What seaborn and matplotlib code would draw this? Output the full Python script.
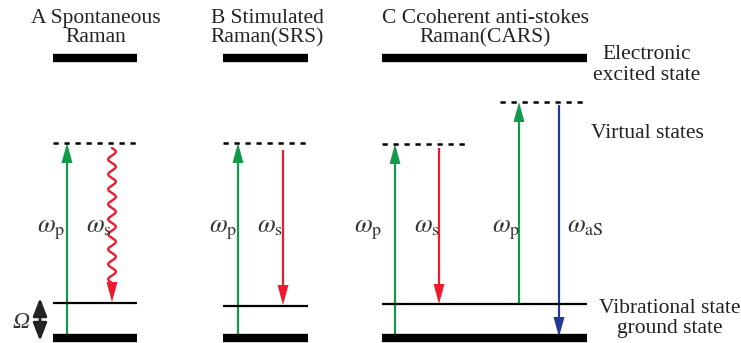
import numpy as np
import matplotlib
matplotlib.use("Agg")
import matplotlib.pyplot as plt
import seaborn as sns

# ---------------- data (pixel space of the 741x343 picture, y pointing down) ----------------
titles = ["A Spontaneous\nRaman", "B Stimulated\nRaman(SRS)", "C Ccoherent anti-stokes\nRaman(CARS)"]
title_x = [96, 267, 485]

# horizontal span of each panel's levels
span_left = [53, 223, 382]
span_right = [137, 308, 587]

# energy levels
y_excited = [58, 58, 58]
y_ground = [337.5, 337.5, 337.5]
y_vib = [302.5, 305.5, 304]

# virtual states (dashed)
virt_x0 = [53, 223, 382, 500]
virt_x1 = [137, 308, 467, 587]
virt_y = [143, 143, 144, 102]

# transitions
arr_x = [67, 112, 238, 283, 395, 439, 519, 559]
arr_y0 = [337, 148, 337, 150, 337, 148, 304, 105]
arr_y1 = [143, 302, 143, 305, 144, 304, 102, 337]
arr_kind = ["p", "wave", "p", "s", "p", "s", "p", "as"]
arr_label = [r"$\omega_{\rm p}$", r"$\omega_{\rm s}$", r"$\omega_{\rm p}$", r"$\omega_{\rm s}$",
             r"$\omega_{\rm p}$", r"$\omega_{\rm s}$", r"$\omega_{\rm p}$", r"$\omega_{\rm aS}$"]
label_x = [37, 86, 209, 257, 354, 414, 492, 567]

# right-hand state names
state_names = ["Electronic\nexcited state", "Virtual states", "Vibrational state\nground state"]
state_x = [647, 647, 670]
state_y = [65, 133, 318.5]
state_spacing = [1.2, 1.0, 1.1]

COLORS = {"p": "#12994a", "s": "#ec1c2e", "wave": "#ec1c2e", "as": "#23399a"}

# ---------------- figure ----------------
sns.set_theme(style="white")
plt.rcParams["font.family"] = "serif"
plt.rcParams["font.serif"] = ["Liberation Serif", "DejaVu Serif"]
plt.rcParams["mathtext.fontset"] = "stix"

fig = plt.figure(figsize=(7.41, 3.43), dpi=100)
ax = fig.add_axes([0, 0, 1, 1])
ax.set_xlim(0, 741)
ax.set_ylim(343, 0)
ax.axis("off")

# solid levels
for i in range(3):
    ax.plot([span_left[i], span_right[i]], [y_excited[i]] * 2, color="black", lw=6, solid_capstyle="butt")
    ax.plot([span_left[i], span_right[i]], [y_ground[i]] * 2, color="black", lw=6, solid_capstyle="butt")
    ax.plot([span_left[i], span_right[i]], [y_vib[i]] * 2, color="black", lw=1.6, solid_capstyle="butt")
    ax.text(title_x[i], 28, titles[i], ha="center", va="center", fontsize=15.5,
            linespacing=1.02, color="#222222")

# virtual states
for x0, x1, y in zip(virt_x0, virt_x1, virt_y):
    ax.plot([x0, x1], [y, y], color="black", lw=1.8, dashes=(2.1, 2.3), dash_capstyle="butt")

# transitions
for x, y0, y1, kind, lab, lx in zip(arr_x, arr_y0, arr_y1, arr_kind, arr_label, label_x):
    c = COLORS[kind]
    if kind == "wave":
        yy = np.linspace(y0, y1 - 18, 300)
        xx = x + 3.8 * np.sin(2 * np.pi * (yy - y0) / 15.0)
        ax.plot(xx, yy, color=c, lw=1.7)
        ax.arrow(x, y1 - 20, 0, 20, width=0.1, head_width=11, head_length=20,
                 length_includes_head=True, color=c, lw=0)
    else:
        ax.arrow(x, y0, 0, y1 - y0, width=2.2, head_width=11, head_length=20,
                 length_includes_head=True, color=c, lw=0)
    ax.text(lx, 232, lab, ha="left", va="baseline", fontsize=18.5, color="#333333")

# Omega double arrow
ax.annotate("", xy=(40, 298), xytext=(40, 341),
            arrowprops=dict(arrowstyle="<|-|>,head_length=0.9,head_width=0.35",
                            color="#222222", lw=2.0, shrinkA=0, shrinkB=0))
ax.text(21, 323, "Ω", ha="center", va="center", fontsize=17, fontstyle="italic", color="#333333")

for name, x, y, ls in zip(state_names, state_x, state_y, state_spacing):
    ax.text(x, y, name, ha="center", va="center", fontsize=15.5, linespacing=ls, color="#222222")

fig.savefig("out.png", dpi=100)
